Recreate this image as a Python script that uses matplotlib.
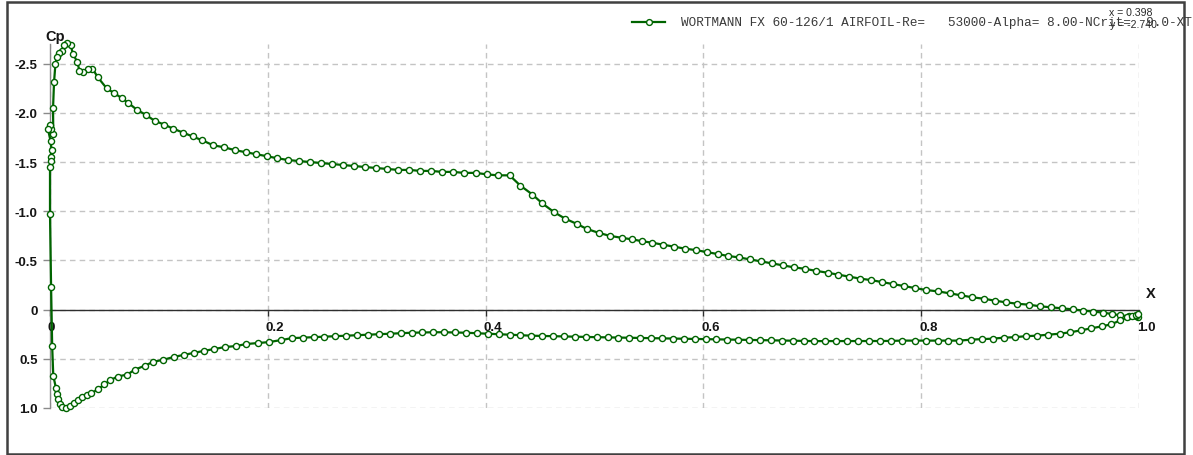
import matplotlib
matplotlib.use("Agg")
import matplotlib.pyplot as plt
from matplotlib.lines import Line2D
from matplotlib.patches import Rectangle
import numpy as np

# Pressure distribution, upper surface (trailing edge -> leading edge)
x_upper = [
    0.999, 0.997, 0.991, 0.983, 0.975, 0.967, 0.958, 0.949, 0.939, 0.929, 0.919, 0.909,
    0.899, 0.888, 0.878, 0.868, 0.858, 0.847, 0.837, 0.826, 0.815, 0.804, 0.794, 0.784,
    0.774, 0.764, 0.754, 0.744, 0.734, 0.724, 0.714, 0.703, 0.693, 0.683, 0.673, 0.663, 0.653,
    0.643, 0.633, 0.623, 0.613, 0.603, 0.593, 0.583, 0.573, 0.563, 0.553, 0.544, 0.534, 0.525,
    0.514, 0.504, 0.493, 0.484, 0.473, 0.463, 0.452, 0.443, 0.432, 0.422, 0.411, 0.401, 0.391,
    0.380, 0.370, 0.360, 0.350, 0.340, 0.330, 0.320, 0.309, 0.299, 0.289, 0.279, 0.269, 0.259,
    0.249, 0.239, 0.229, 0.219, 0.208, 0.199, 0.189, 0.180, 0.170, 0.160, 0.150, 0.140, 0.131,
    0.122, 0.113, 0.105, 0.096, 0.088, 0.080, 0.072, 0.066, 0.059, 0.052, 0.044, 0.039,
    0.035, 0.030, 0.027, 0.025, 0.021, 0.019, 0.0156, 0.013, 0.011, 0.008, 0.0064, 0.005,
    0.0037, 0.0028, 0.003, 0.001, -0.0002, -0.002, 0.0006, 0.0015, 0.0005, 0.001, 0.0, 0.0, 0.001,
]
cp_upper = [
    0.070, 0.066, 0.068, 0.058, 0.045, 0.030, 0.020, 0.010, -0.003, -0.013, -0.024, -0.034,
    -0.050, -0.060, -0.074, -0.090, -0.110, -0.125, -0.145, -0.166, -0.186, -0.200, -0.220, -0.240,
    -0.260, -0.280, -0.300, -0.315, -0.335, -0.355, -0.375, -0.395, -0.415, -0.430, -0.450, -0.470, -0.490,
    -0.510, -0.530, -0.545, -0.565, -0.585, -0.605, -0.620, -0.640, -0.660, -0.680, -0.695, -0.715, -0.730,
    -0.750, -0.780, -0.820, -0.870, -0.925, -0.990, -1.080, -1.170, -1.260, -1.365, -1.365, -1.375, -1.390,
    -1.390, -1.400, -1.400, -1.410, -1.410, -1.420, -1.420, -1.430, -1.440, -1.450, -1.460, -1.470, -1.480,
    -1.490, -1.500, -1.510, -1.520, -1.540, -1.560, -1.580, -1.600, -1.620, -1.650, -1.670, -1.720, -1.760,
    -1.800, -1.840, -1.880, -1.920, -1.980, -2.030, -2.100, -2.150, -2.200, -2.250, -2.360, -2.450,
    -2.450, -2.420, -2.430, -2.520, -2.600, -2.690, -2.710, -2.690, -2.630, -2.610, -2.570, -2.500,
    -2.310, -2.050, -1.790, -1.840, -1.880, -1.840, -1.710, -1.620, -1.550, -1.510, -1.450, -0.970, -0.230,
]

# Pressure distribution, lower surface (leading edge -> trailing edge)
x_lower = [
    0.002, 0.003, 0.0055, 0.0064, 0.0073, 0.009, 0.011, 0.0147, 0.018, 0.022, 0.026, 0.029,
    0.034, 0.038, 0.044, 0.050, 0.055, 0.062, 0.071, 0.078, 0.087, 0.095, 0.104, 0.114,
    0.123, 0.132, 0.141, 0.151, 0.161, 0.171, 0.180, 0.191, 0.201, 0.212, 0.222, 0.232,
    0.242, 0.252, 0.262, 0.272, 0.282, 0.292, 0.302, 0.312, 0.322, 0.332, 0.342, 0.352,
    0.362, 0.372, 0.382, 0.392, 0.402, 0.412, 0.422, 0.432, 0.442, 0.452, 0.462, 0.472,
    0.482, 0.492, 0.502, 0.512, 0.522, 0.532, 0.542, 0.552, 0.562, 0.572, 0.582, 0.592,
    0.602, 0.612, 0.622, 0.632, 0.642, 0.652, 0.662, 0.672, 0.682, 0.692, 0.702, 0.712,
    0.722, 0.732, 0.742, 0.752, 0.762, 0.772, 0.782, 0.794, 0.804, 0.815, 0.825, 0.835,
    0.846, 0.856, 0.866, 0.876, 0.886, 0.896, 0.906, 0.916, 0.927, 0.937, 0.947, 0.956,
    0.966, 0.974, 0.983, 0.989, 0.994, 0.997, 0.999,
]
cp_lower = [
    0.370, 0.670, 0.800, 0.860, 0.910, 0.960, 0.990, 1.000, 0.980, 0.950, 0.920, 0.890,
    0.870, 0.850, 0.810, 0.760, 0.720, 0.680, 0.660, 0.610, 0.570, 0.530, 0.510, 0.480,
    0.460, 0.440, 0.420, 0.400, 0.380, 0.370, 0.350, 0.340, 0.330, 0.310, 0.290, 0.285,
    0.280, 0.275, 0.270, 0.265, 0.260, 0.255, 0.250, 0.245, 0.240, 0.235, 0.232, 0.230,
    0.230, 0.232, 0.235, 0.240, 0.245, 0.250, 0.255, 0.260, 0.265, 0.268, 0.270, 0.272,
    0.275, 0.278, 0.280, 0.282, 0.284, 0.286, 0.288, 0.290, 0.292, 0.294, 0.296, 0.298,
    0.300, 0.302, 0.304, 0.306, 0.308, 0.310, 0.312, 0.314, 0.316, 0.318, 0.320, 0.320,
    0.321, 0.321, 0.321, 0.320, 0.319, 0.318, 0.315, 0.315, 0.315, 0.315, 0.315, 0.315,
    0.305, 0.300, 0.295, 0.285, 0.280, 0.270, 0.265, 0.255, 0.245, 0.230, 0.210, 0.190,
    0.170, 0.150, 0.110, 0.080, 0.064, 0.050, 0.040,
]

x_ticks = [0.0, 0.2, 0.4, 0.6, 0.8, 1.0]
x_tick_labels = ["0", "0.2", "0.4", "0.6", "0.8", "1.0"]
y_ticks = [-2.5, -2.0, -1.5, -1.0, -0.5, 0.0, 0.5, 1.0]
y_tick_labels = ["-2.5", "-2.0", "-1.5", "-1.0", "-0.5", "0", "0.5", "1.0"]

legend_text = "WORTMANN FX 60-126/1 AIRFOIL-Re=   53000-Alpha= 8.00-NCrit=  9.0-XT"
cursor_x = "x = 0.398"
cursor_y = "y = -2.740"

GREEN = "#006400"
LABEL_FONT = dict(family="Liberation Sans", fontweight="bold", fontsize=9.5, color="#151515")

W, H = 1193, 456
fig = plt.figure(figsize=(W / 100, H / 100), dpi=100)
fig.patch.set_facecolor("white")

ax = fig.add_axes([50 / W, 47 / H, (1139 - 50) / W, (409 - 45) / H])
ax.set_facecolor("white")
ax.set_xlim(0.0, 1.0)
ax.set_ylim(1.0, -2.70)

for side in ("top", "right"):
    ax.spines[side].set_visible(False)
ax.spines["left"].set_color("#8a8a8a")
ax.spines["left"].set_linewidth(1.0)
ax.spines["bottom"].set_position(("data", 0.0))
ax.spines["bottom"].set_color("#2e2e2e")
ax.spines["bottom"].set_linewidth(1.0)

ax.set_yticks(y_ticks)
ax.set_yticklabels(y_tick_labels, **LABEL_FONT)
ax.tick_params(axis="y", direction="out", length=5, width=1, color="#8a8a8a", pad=4)
ax.set_xticks(x_ticks)
ax.tick_params(axis="x", direction="out", length=4, width=1, color="#2e2e2e", labelbottom=False)

ax.set_axisbelow(True)
ax.grid(True, color="#c4c4c4", linestyle=(0, (4, 3)), linewidth=1.0)

# x tick labels sit just under the zero line, starting at each tick
for v, lab in zip(x_ticks, x_tick_labels):
    ax.annotate(lab, xy=(v, 0.0), xytext=(-1.5, -8.5), textcoords="offset points",
                ha="left", va="top", **LABEL_FONT)

ax.annotate("X", xy=(1.0, 0.0), xytext=(5, 12), textcoords="offset points",
            ha="left", va="center", family="Liberation Sans", fontweight="bold",
            fontsize=10.5, color="#151515")
fig.text(45 / W, 1 - 40.5 / H, "Cp", ha="left", va="baseline", family="Liberation Sans",
         fontweight="bold", fontsize=10.5, color="#151515")

xs = np.array(x_upper + x_lower)
cps = np.array(cp_upper + cp_lower)
ax.plot(xs, cps, color=GREEN, linewidth=1.6, marker="o", markersize=4.4,
        markerfacecolor="white", markeredgecolor=GREEN, markeredgewidth=1.0,
        clip_on=False, zorder=3)

# legend entry
ly = 1 - 23 / H
fig.add_artist(Line2D([632 / W, 665 / W], [ly, ly], color=GREEN, linewidth=1.6,
                      transform=fig.transFigure))
fig.add_artist(Line2D([648.5 / W], [ly], marker="o", markersize=4.2, markerfacecolor="white",
                      markeredgecolor=GREEN, markeredgewidth=1.0, transform=fig.transFigure))
fig.text(681 / W, ly, legend_text, ha="left", va="center", family="Liberation Mono",
         fontsize=9.2, color="#3a3a3a")

# cursor readout
fig.text(1109 / W, 1 - 13 / H, cursor_x, ha="left", va="center", family="Liberation Sans",
         fontsize=7.6, color="#2a2a2a")
fig.text(1110 / W, 1 - 25 / H, cursor_y, ha="left", va="center", family="Liberation Sans",
         fontsize=7.6, color="#2a2a2a")

# window frame
fig.add_artist(Rectangle((7 / W, 1.5 / H), (1184 - 7) / W, (453 - 1.5) / H,
                         transform=fig.transFigure, fill=False, edgecolor="#404040",
                         linewidth=1.8))

fig.savefig("out.png", dpi=100, facecolor="white")
